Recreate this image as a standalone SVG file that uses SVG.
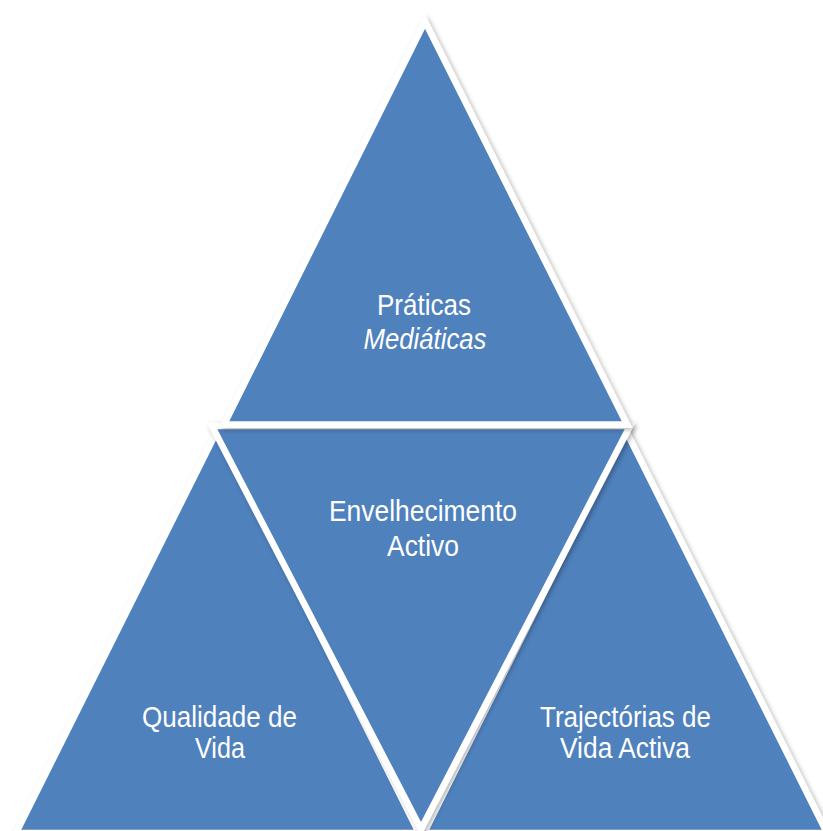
<svg xmlns="http://www.w3.org/2000/svg" width="823" height="831" viewBox="0 0 823 831">
<defs>
<filter id="sh" x="-10%" y="-10%" width="120%" height="120%">
<feGaussianBlur in="SourceAlpha" stdDeviation="2.5"/>
<feOffset dx="1.5" dy="2"/>
<feComponentTransfer><feFuncA type="linear" slope="0.3"/></feComponentTransfer>
<feMerge><feMergeNode/><feMergeNode in="SourceGraphic"/></feMerge>
</filter>
</defs>
<style>
.tri{fill:#4F81BD;stroke:#FFFFFF;stroke-width:6.5;stroke-linejoin:miter;stroke-miterlimit:10;filter:url(#sh)}
.lbl{font-family:"Liberation Sans",Arial,sans-serif;font-size:30px;fill:#FFFFFF;text-anchor:middle}
.it{font-style:italic}
</style>
<rect width="823" height="831" fill="#FFFFFF"/>
<g id="qualidade">
<path class="tri" d="M217.5,430 L419,833 L16,833 Z"/>
<text class="lbl" x="219.5" y="727" textLength="155" lengthAdjust="spacingAndGlyphs">Qualidade de</text>
<text class="lbl" x="220" y="758" textLength="50" lengthAdjust="spacingAndGlyphs">Vida</text>
</g>
<g id="trajectorias">
<path class="tri" d="M625.5,430 L827,833 L424,833 Z"/>
<text class="lbl" x="625.5" y="727" textLength="171" lengthAdjust="spacingAndGlyphs">Trajectórias de</text>
<text class="lbl" x="625" y="758" textLength="130" lengthAdjust="spacingAndGlyphs">Vida Activa</text>
</g>
<g id="envelhecimento">
<path class="tri" d="M212,426 L630,426 L421,829 Z"/>
<text class="lbl" x="423" y="521" textLength="188" lengthAdjust="spacingAndGlyphs">Envelhecimento</text>
<text class="lbl" x="423" y="556" textLength="72" lengthAdjust="spacingAndGlyphs">Activo</text>
</g>
<g id="praticas">
<path class="tri" d="M425,21.5 L627,424.5 L224,424.5 Z"/>
<text class="lbl" x="424" y="315" textLength="94" lengthAdjust="spacingAndGlyphs">Práticas</text>
<text class="lbl it" x="425" y="348.5" textLength="123" lengthAdjust="spacingAndGlyphs">Mediáticas</text>
</g>
<g id="connectors"></g>
</svg>
